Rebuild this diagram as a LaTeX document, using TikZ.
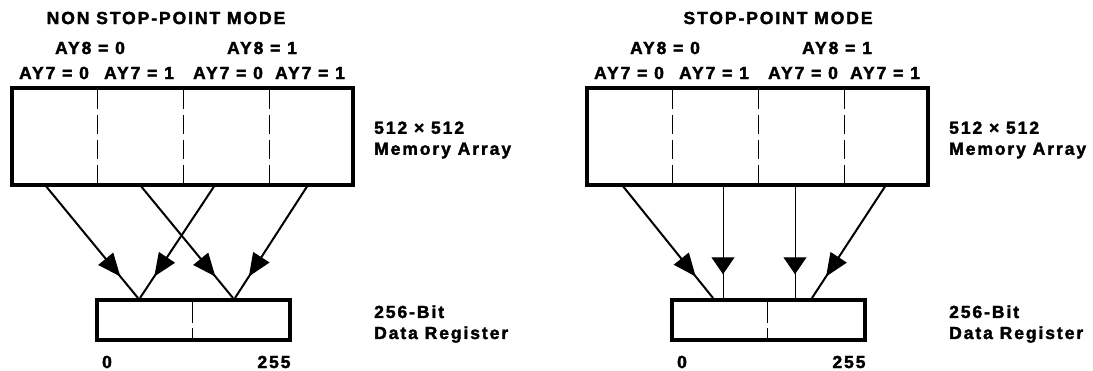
\documentclass[tikz,border=0pt]{standalone}
\usepackage{fontspec}
\setmainfont{Liberation Sans}[LetterSpace=11, BoldFeatures={FakeBold=2}]
\usetikzlibrary{arrows.meta,decorations.markings}
\begin{document}
\begin{tikzpicture}[x=1pt,y=-1pt,
  font=\bfseries\fontsize{17.5}{20}\selectfont,
  membox/.style={draw, line width=4.5pt, minimum width=341pt, minimum height=97pt, inner sep=0pt},
  regbox/.style={draw, line width=4pt, minimum width=193pt, minimum height=40pt, inner sep=0pt},
  divider/.style={line width=1pt, dash pattern=on 19pt off 6pt},
  diagarrow/.style={line width=2pt, postaction={decorate},
    decoration={markings, mark=at position 0.81 with {\arrow{Triangle[length=23pt,width=19pt]}}}},
  vertarrow/.style={line width=1pt, postaction={decorate},
    decoration={markings, mark=at position 0.79 with {\arrow{Triangle[length=17pt,width=23pt]}}}},
  lbl/.style={inner sep=0pt},
  sidelbl/.style={anchor=west, inner sep=0pt, align=left}
]
\useasboundingbox (0,0) rectangle (1093,371);

% ---------------- LEFT: NON STOP-POINT MODE ----------------
\node[lbl] (titleL) at (166,18) {NON STOP-POINT MODE};
\node[lbl] (ay8aL) at (90,48) {AY8 = 0};
\node[lbl] (ay8bL) at (262,48) {AY8 = 1};
\node[lbl] (ay7aL) at (54,73) {AY7 = 0};
\node[lbl] (ay7bL) at (139,73) {AY7 = 1};
\node[lbl] (ay7cL) at (228,73) {AY7 = 0};
\node[lbl] (ay7dL) at (310,73) {AY7 = 1};

\node[membox] (memL) at (182.5,136.5) {};
\draw[divider] (97,90) -- (97,183);
\draw[divider] (183,90) -- (183,183);
\draw[divider] (269,90) -- (269,183);

\node[regbox] (regL) at (193.5,320) {};
\draw[line width=1pt, dash pattern=on 21pt off 5pt] (192,302) -- (192,338);

\node[sidelbl] (memtxtL) at (374,140) {512 × 512\\[1pt]Memory Array};
\node[sidelbl] (regtxtL) at (374,324) {256-Bit\\[1pt]Data Register};
\node[lbl] (zeroL) at (107,362) {0};
\node[lbl] (maxL) at (274,362) {255};

\coordinate (sL1) at (45,185);  \coordinate (eL1) at (138,298);
\coordinate (sL2) at (140,185); \coordinate (eL2) at (233,298);
\coordinate (sL3) at (215,185); \coordinate (eL3) at (140,298);
\coordinate (sL4) at (308,185); \coordinate (eL4) at (235,298);
\draw[diagarrow] (sL1) -- (eL1);
\draw[diagarrow] (sL2) -- (eL2);
\draw[diagarrow] (sL3) -- (eL3);
\draw[diagarrow] (sL4) -- (eL4);

% ---------------- RIGHT: STOP-POINT MODE ----------------
\node[lbl] (titleR) at (778,18) {STOP-POINT MODE};
\node[lbl] (ay8aR) at (665,48) {AY8 = 0};
\node[lbl] (ay8bR) at (837,48) {AY8 = 1};
\node[lbl] (ay7aR) at (629,73) {AY7 = 0};
\node[lbl] (ay7bR) at (714,73) {AY7 = 1};
\node[lbl] (ay7cR) at (803,73) {AY7 = 0};
\node[lbl] (ay7dR) at (885,73) {AY7 = 1};

\node[membox] (memR) at (757.5,136.5) {};
\draw[divider] (672,90) -- (672,183);
\draw[divider] (758,90) -- (758,183);
\draw[divider] (844,90) -- (844,183);

\node[regbox] (regR) at (768.5,320) {};
\draw[line width=1pt, dash pattern=on 21pt off 5pt] (767,302) -- (767,338);

\node[sidelbl] (memtxtR) at (949,140) {512 × 512\\[1pt]Memory Array};
\node[sidelbl] (regtxtR) at (949,324) {256-Bit\\[1pt]Data Register};
\node[lbl] (zeroR) at (682,362) {0};
\node[lbl] (maxR) at (849,362) {255};

\coordinate (sR1) at (622,185); \coordinate (eR1) at (713,298);
\coordinate (sR2) at (723,185); \coordinate (eR2) at (723,298);
\coordinate (sR3) at (795,185); \coordinate (eR3) at (795,298);
\coordinate (sR4) at (886,185); \coordinate (eR4) at (812,298);
\draw[diagarrow] (sR1) -- (eR1);
\draw[vertarrow] (sR2) -- (eR2);
\draw[vertarrow] (sR3) -- (eR3);
\draw[diagarrow] (sR4) -- (eR4);
\end{tikzpicture}
\end{document}
